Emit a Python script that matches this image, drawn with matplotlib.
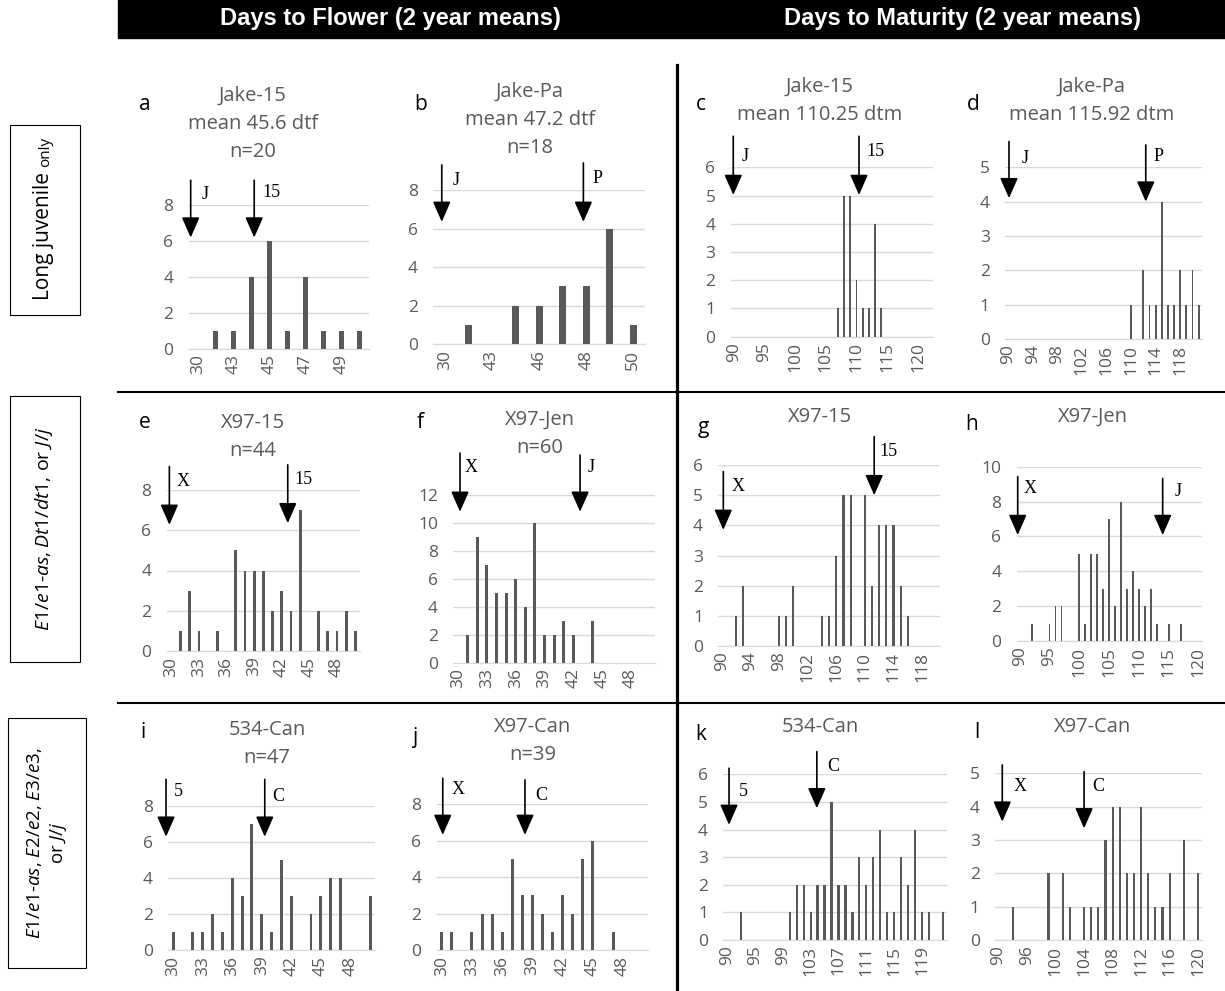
import matplotlib
matplotlib.use('Agg')
import matplotlib.pyplot as plt
from matplotlib.lines import Line2D
from matplotlib.patches import Rectangle

plt.rcParams['font.family'] = ['Open Sans', 'DejaVu Sans']
plt.rcParams['mathtext.fontset'] = 'custom'
plt.rcParams['mathtext.it'] = 'Open Sans:italic'
plt.rcParams['mathtext.rm'] = 'Open Sans'

# ---- data: days (category values) with counts ----
cats_a = [30, 42, 43, 44, 45, 46, 47, 48, 49, 50]
days_a = [42, 43, 44, 45, 46, 47, 48, 49, 50]
count_a = [1, 1, 4, 6, 1, 4, 1, 1, 1]

cats_b = [30, 39, 43, 45, 46, 47, 48, 49, 50]
days_b = [39, 45, 46, 47, 48, 49, 50]
count_b = [1, 2, 2, 3, 3, 6, 1]

cats_c = list(range(90, 123))
days_c = [107, 108, 109, 110, 111, 112, 113, 114]
count_c = [1, 5, 5, 2, 1, 1, 4, 1]

cats_d = list(range(90, 122))
days_d = [110, 112, 113, 114, 115, 116, 117, 118, 119, 120, 121]
count_d = [1, 2, 1, 1, 4, 1, 1, 2, 1, 2, 1]

cats_e = list(range(30, 51))
days_e = [31, 32, 33, 35, 37, 38, 39, 40, 41, 42, 43, 44, 46, 47, 48, 49, 50]
count_e = [1, 3, 1, 1, 5, 4, 4, 4, 2, 3, 2, 7, 2, 1, 1, 2, 1]

cats_f = list(range(30, 51))
days_f = [31, 32, 33, 34, 35, 36, 37, 38, 39, 40, 41, 42, 44]
count_f = [2, 9, 7, 5, 5, 6, 4, 10, 2, 2, 3, 2, 3]

cats_g = list(range(90, 121))
days_g = [92, 93, 98, 99, 100, 104, 105, 106, 107, 108, 110, 111, 112, 113, 114, 115, 116]
count_g = [1, 2, 1, 1, 2, 1, 1, 3, 5, 5, 5, 2, 4, 4, 4, 2, 1]

cats_h = list(range(90, 121))
days_h = [92, 95, 96, 97, 100, 101, 102, 103, 104, 105, 106, 107, 108, 109, 110,
          111, 112, 113, 115, 117]
count_h = [1, 1, 2, 2, 5, 1, 5, 5, 3, 7, 2, 8, 3, 4, 3, 2, 3, 1, 1, 1]

cats_i = list(range(30, 51))
days_i = [30, 32, 33, 34, 35, 36, 37, 38, 39, 40, 41, 42, 44, 45, 46, 47, 50]
count_i = [1, 1, 1, 2, 1, 4, 3, 7, 2, 1, 5, 3, 2, 3, 4, 4, 3]

cats_j = list(range(30, 51))
days_j = [30, 31, 33, 34, 35, 36, 37, 38, 39, 40, 41, 42, 43, 44, 45, 47]
count_j = [1, 1, 1, 2, 2, 1, 5, 3, 3, 2, 1, 3, 2, 5, 6, 1]

cats_k = [90, 92, 93, 94] + list(range(95, 123))
days_k = [93, 100, 101, 102, 103, 104, 105, 106, 107, 108, 109, 110, 111, 112, 113,
          114, 115, 116, 117, 118, 119, 120, 122]
count_k = [1, 1, 2, 2, 1, 2, 2, 5, 2, 2, 1, 3, 2, 3, 4, 1, 1, 3, 2, 4, 1, 1, 1]

cats_l = [90, 92, 93, 95] + list(range(96, 121))
days_l = [93, 99, 101, 102, 104, 105, 106, 107, 108, 109, 110, 111, 112, 113, 114,
          115, 116, 118, 120]
count_l = [1, 2, 2, 1, 1, 1, 1, 3, 4, 4, 2, 2, 4, 2, 1, 1, 2, 3, 2]

titles = {
    'a': ['Jake-15', 'mean 45.6 dtf', 'n=20'],
    'b': ['Jake-Pa', 'mean 47.2 dtf', 'n=18'],
    'c': ['Jake-15', 'mean 110.25 dtm'],
    'd': ['Jake-Pa', 'mean 115.92 dtm'],
    'e': ['X97-15', 'n=44'],
    'f': ['X97-Jen', 'n=60'],
    'g': ['X97-15'],
    'h': ['X97-Jen'],
    'i': ['534-Can', 'n=47'],
    'j': ['X97-Can', 'n=39'],
    'k': ['534-Can'],
    'l': ['X97-Can'],
}

W, H = 1225, 991
GRAY = '#595959'
GRID = '#d9d9d9'


def fx(px):
    return px / W


def fy(py):
    return 1 - py / H


fig = plt.figure(figsize=(W / 100, H / 100), dpi=100)

# panel: cats, days, counts, ymax, ystep, xlabel step, axes box (px), title pos, letter pos, arrows
panels = [
    ('a', cats_a, days_a, count_a, 8, 2, 2, (188.7, 368.7, 205.3, 348.7), (253, 96), (145, 105),
     [(-0.39, 9.4, 6.2, 'J', 0.42, 8.6), (3.14, 9.4, 6.2, '15', 4.1, 8.7)]),
    ('b', cats_b, days_b, count_b, 8, 2, 2, (433.3, 645, 190, 344.3), (530, 92), (421, 105),
     [(-0.14, 9.3, 6.35, 'J', 0.49, 8.5), (5.88, 9.4, 6.35, 'P', 6.5, 8.6)]),
    ('c', cats_c, days_c, count_c, 6, 1, 5, (730.7, 933.3, 167.3, 336.7), (820, 87), (701, 105),
     [(-0.08, 7.1, 5.02, 'J', 1.83, 6.4), (20.4, 7.1, 5.02, '15', 23.0, 6.56)]),
    ('d', cats_d, days_d, count_d, 5, 1, 4, (1005, 1201.7, 167.3, 339), (1092, 87), (973, 105),
     [(0.15, 5.75, 4.1, 'J', 2.75, 5.27), (22.4, 5.65, 4.0, 'P', 24.4, 5.3)]),
    ('e', cats_e, days_e, count_e, 8, 2, 3, (166.7, 360, 490, 651), (253, 423), (145, 423),
     [(-0.21, 9.17, 6.27, 'X', 1.3, 8.4), (12.65, 9.25, 6.35, '15', 14.35, 8.5)]),
    ('f', cats_f, days_f, count_f, 12, 2, 3, (453.3, 655, 495, 662.7), (540, 420), (420, 423),
     [(0.2, 15.0, 10.8, 'X', 1.4, 14.0), (12.7, 14.86, 10.8, 'J', 13.9, 14.0)]),
    ('g', cats_g, days_g, count_g, 6, 1, 4, (718.3, 940, 465, 646), (820, 417), (703, 427),
     [(0.2, 5.78, 3.85, 'X', 2.3, 5.28), (21.3, 6.94, 5.0, '15', 23.3, 6.44)]),
    ('h', cats_h, days_h, count_h, 10, 2, 5, (1016.7, 1201.7, 466.7, 641), (1093, 417), (972, 425),
     [(-0.33, 9.43, 6.08, 'X', 1.73, 8.76), (23.96, 9.33, 6.08, 'J', 26.6, 8.57)]),
    ('i', cats_i, days_i, count_i, 8, 2, 3, (168.3, 375, 805.7, 950), (267, 730), (143, 733),
     [(-0.73, 9.46, 6.28, '5', 0.52, 8.77), (9.3, 9.46, 6.28, 'C', 10.7, 8.5)]),
    ('j', cats_j, days_j, count_j, 8, 2, 3, (436.7, 648.3, 804.3, 950), (533, 727), (415, 737),
     [(0.1, 9.43, 6.32, 'X', 1.65, 8.8), (8.26, 9.34, 6.32, 'C', 9.9, 8.5)]),
    ('k', cats_k, days_k, count_k, 6, 1, 4, (723.3, 946.7, 774.3, 940), (820, 727), (701, 735),
     [(0.32, 6.22, 4.17, '5', 2.36, 5.37), (12.9, 6.82, 4.77, 'C', 15.26, 6.28)]),
    ('l', cats_l, days_l, count_l, 5, 1, 4, (995, 1201.7, 773.3, 940), (1093, 727), (977, 733),
     [(0.52, 5.25, 3.55, 'X', 3.0, 4.6), (12.0, 5.05, 3.35, 'C', 14.0, 4.6)]),
]

for key, cats, days, counts, ymax, ystep, xstep, box, tpos, lpos, arrows in panels:
    x0, x1, yt, yb = box
    ax = fig.add_axes([fx(x0), fy(yb), (x1 - x0) / W, (yb - yt) / H])
    xpos = [cats.index(d) for d in days]
    ax.bar(xpos, counts, width=0.3, color=GRAY, zorder=3)
    ax.set_xlim(-0.5, len(cats) - 0.5)
    ax.set_ylim(0, ymax)
    ax.set_yticks(range(0, ymax + 1, ystep))
    ax.set_xticks(range(0, len(cats), xstep))
    ax.set_xticklabels([str(cats[i]) for i in range(0, len(cats), xstep)], rotation=90)
    ax.grid(axis='y', color=GRID, lw=1, zorder=0)
    for s in ['top', 'right', 'left']:
        ax.spines[s].set_visible(False)
    ax.spines['bottom'].set_color(GRID)
    ax.tick_params(length=0, labelcolor=GRAY, labelsize=12.5)
    ax.tick_params(axis='y', pad=11)
    ax.tick_params(axis='x', pad=4)
    ax.set_facecolor('none')

    for ax_x, ytop, ytip, lab, lx, ly in arrows:
        ax.annotate('', xy=(ax_x, ytip), xytext=(ax_x, ytop),
                    arrowprops=dict(arrowstyle='-|>,head_length=1.25,head_width=0.55',
                                    color='black', lw=1.2, shrinkA=0, shrinkB=0,
                                    mutation_scale=10),
                    annotation_clip=False)
        ax.text(lx, ly, lab, family='Liberation Serif', fontsize=13,
                ha='center', va='center', clip_on=False)

    for k, line in enumerate(titles[key]):
        fig.text(fx(tpos[0]), fy(tpos[1] + 28 * k), line, ha='center', va='center',
                 color=GRAY, fontsize=14.5)
    fig.text(fx(lpos[0]), fy(lpos[1]), key, ha='center', va='center',
             color='black', fontsize=15)

# header band
fig.add_artist(Rectangle((fx(118), fy(38)), (W - 118) / W, 38 / H,
                         transform=fig.transFigure, color='black', zorder=0))
fig.text(fx(390), fy(19), 'Days to Flower (2 year means)', ha='center', va='center',
         color='white', fontsize=17, fontweight='bold', family='Liberation Sans')
fig.text(fx(963), fy(19), 'Days to Maturity (2 year means)', ha='center', va='center',
         color='white', fontsize=17, fontweight='bold', family='Liberation Sans')

# separators
fig.add_artist(Line2D([fx(677), fx(677)], [fy(65), fy(991)], transform=fig.transFigure,
                      color='black', lw=2.3))
for yy in [392, 703]:
    fig.add_artist(Line2D([fx(118), fx(1225)], [fy(yy), fy(yy)], transform=fig.transFigure,
                          color='black', lw=1.5))

# row label boxes
for (bx0, by0, bx1, by1) in [(10, 125, 80, 315), (10, 396, 80, 662), (8, 718, 86, 968)]:
    fig.add_artist(Rectangle((fx(bx0), fy(by1)), (bx1 - bx0) / W, (by1 - by0) / H,
                             transform=fig.transFigure, fill=False, ec='black', lw=0.8))

fig.canvas.draw()
renderer = fig.canvas.get_renderer()
t1 = fig.text(fx(49), fy(300), 'Long juvenile ', rotation=90, rotation_mode='anchor',
              ha='left', va='baseline', fontsize=15)
ext = t1.get_window_extent(renderer)
fig.text(fx(49), fy(300) + ext.height / fig.bbox.height, 'only', rotation=90,
         rotation_mode='anchor', ha='left', va='baseline', fontsize=11)

fig.text(fx(44), fy(529), r'$\mathit{E1/e1}$-$\mathit{as,Dt1/dt1}$, or $\mathit{J/j}$',
         rotation=90, ha='center', va='center', fontsize=14)
fig.text(fx(47), fy(843), r'$\mathit{E1/e1}$-$\mathit{as}$, $\mathit{E2/e2}$, $\mathit{E3/e3}$,'
         '\n' r'or $\mathit{J/j}$',
         rotation=90, ha='center', va='center', fontsize=13.5, linespacing=1.3)

fig.savefig('out.png', dpi=100)
